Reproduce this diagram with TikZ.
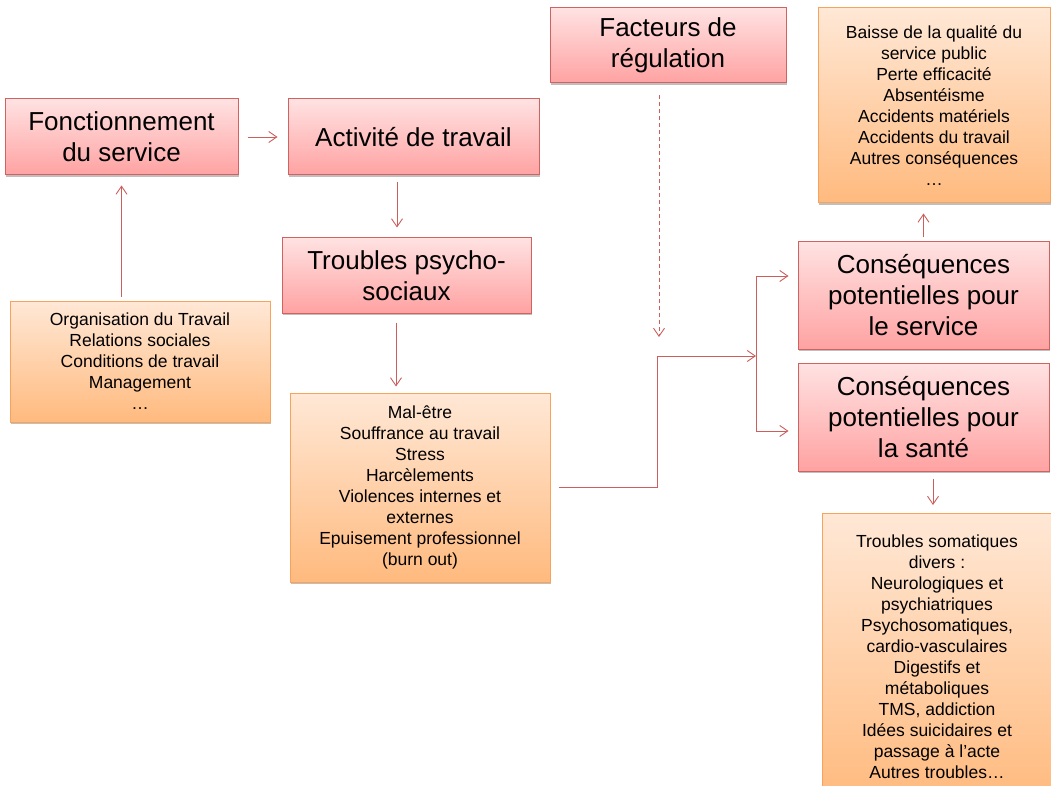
\documentclass[tikz,border=0pt]{standalone}
\usepackage{fontspec}
\setmainfont{Liberation Sans}
\usepackage{tikz}
\usetikzlibrary{positioning, arrows.meta, shadows}
\definecolor{rosehaut}{HTML}{FFE2E2}
\definecolor{rosebas}{HTML}{FFA2A2}
\definecolor{rosebord}{HTML}{D0625F}
\definecolor{orangehaut}{HTML}{FFE8D6}
\definecolor{orangebas}{HTML}{FFBA7E}
\definecolor{orangebord}{HTML}{F8A35C}
\definecolor{rougetrait}{HTML}{CC5F5C}
\tikzset{
        >={Straight Barb[length=8pt,width=11pt]}, % open arrow heads
        every node/.style={align=center, inner sep=0pt}, % centred lines
        cadre/.style={draw=rosebord, line width=1pt, top color=rosehaut, bottom color=rosebas,
                font=\fontsize{26}{31}\selectfont,
                drop shadow={shadow xshift=1pt, shadow yshift=-2pt, fill=black, opacity=0.25}}, % pink boxes
        liste/.style={draw=orangebord, line width=1pt, top color=orangehaut, bottom color=orangebas,
                font=\fontsize{17.5}{21}\selectfont,
                drop shadow={shadow xshift=1pt, shadow yshift=-2pt, fill=black, opacity=0.25}}, % orange boxes
        lien/.style={draw=rougetrait, line width=0.9pt}, % connectors
}

\begin{document}
\begin{tikzpicture}[x=1pt, y=-1pt]
      \useasboundingbox (0,0) rectangle (1051,786);
      % pink boxes
      \node[cadre, minimum width=233pt, minimum height=76pt] (fonct) at (121.5,137) {Fonctionnement\\du service};
      \node[cadre, minimum width=251pt, minimum height=76pt] (activite) at (413.5,137) {Activité de travail};
      \node[cadre, minimum width=249pt, minimum height=75pt] (troubles) at (406.5,275.5) {Troubles psycho-\\sociaux};
      \node[cadre, minimum width=236pt, minimum height=75pt] (facteurs) at (668,45.5) {Facteurs de\\régulation};
      \node[cadre, minimum width=251pt, minimum height=107pt] (service) at (923.5,295.5) {Conséquences\\potentielles pour\\le service};
      \node[cadre, minimum width=251pt, minimum height=108pt] (sante) at (923.5,417) {Conséquences\\potentielles pour\\la santé};
      % orange boxes
      \node[liste, minimum width=260pt, minimum height=121pt] (causes) at (140,361.5)
            {Organisation du Travail\\Relations sociales\\Conditions de travail\\Management\\…};
      \node[liste, minimum width=260pt, minimum height=189pt] (manifest) at (420,487.5)
            {Mal-être\\Souffrance au travail\\Stress\\Harcèlements\\Violences internes et\\externes\\Epuisement professionnel\\(burn out)};
      \node[liste, minimum width=232pt, minimum height=195pt] (effetsservice) at (934,105.5)
            {Baisse de la qualité du\\service public\\Perte efficacité\\Absentéisme\\Accidents matériels\\Accidents du travail\\Autres conséquences\\…};
      \node[liste, minimum width=230pt, minimum height=287pt, anchor=north] (effetssante) at (937,513)
            {Troubles somatiques\\divers :\\Neurologiques et\\psychiatriques\\Psychosomatiques,\\cardio-vasculaires\\Digestifs et\\métaboliques\\TMS, addiction\\Idées suicidaires et\\passage à l’acte\\Autres troubles…};
      % connectors
      \coordinate (coude) at (657,356);
      \coordinate (fourche) at (756,356);
      \coordinate (fourchehaut) at (756,276);
      \coordinate (fourchebas) at (756,431);
      \coordinate (regulation) at (659,337);
      \draw[lien, ->, shorten <=9pt, shorten >=10pt] (fonct.east) -- (activite.west);
      \draw[lien, ->, shorten <=4pt, shorten >=10pt] (fonct.south |- causes.north) -- (fonct.south);
      \draw[lien, ->, shorten <=7pt, shorten >=10pt] ([xshift=-16.5pt]activite.south) -- ([xshift=-9.5pt]troubles.north);
      \draw[lien, ->, shorten <=9pt, shorten >=6pt] ([xshift=-10.5pt]troubles.south) -- ([xshift=-24pt]manifest.north);
      \draw[lien, ->, shorten <=8pt] (manifest.east) -| (coude) -- (fourche);
      \draw[lien] (fourchehaut) -- (fourchebas);
      \draw[lien, ->, shorten >=9pt] (fourchehaut) -- (fourchehaut -| service.west);
      \draw[lien, ->, shorten >=9pt] (fourchebas) -- (fourchebas -| sante.west);
      \draw[lien, ->, dash pattern=on 4pt off 3pt, shorten <=12pt] ([xshift=-9pt]facteurs.south) -- (regulation);
      \draw[lien, ->, shorten <=4pt, shorten >=10pt] (service.north) -- (service.north |- effetsservice.south);
      \draw[lien, ->, shorten <=7pt, shorten >=8pt] ([xshift=9.5pt]sante.south) -- ([xshift=-4pt]effetssante.north);
\end{tikzpicture}
\end{document}
